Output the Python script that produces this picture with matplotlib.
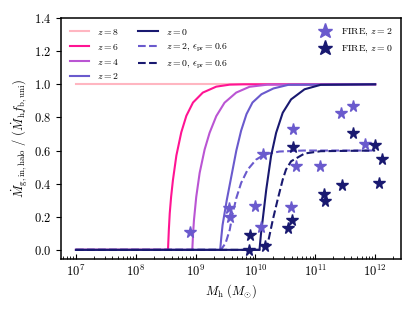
import numpy as np
import matplotlib
matplotlib.use("Agg")
import matplotlib.pyplot as plt

plt.rcParams['font.family'] = 'serif'
plt.rcParams['font.serif'] = ['cmr10']
plt.rcParams['mathtext.fontset'] = 'cm'
plt.rcParams['axes.formatter.use_mathtext'] = True

# ---- data (log10 halo mass, fraction) ----
logm_z8 = [7.0, 12.0]
f_z8 = [1.0, 1.0]

logm_z6 = [7.0, 8.538, 8.552, 8.567, 8.59, 8.62, 8.678, 8.76, 8.845, 8.956, 9.12, 9.345, 9.57, 9.8, 12.0]
f_z6 = [0.0, 0.0, 0.12, 0.22, 0.32, 0.42, 0.57, 0.71, 0.81, 0.89, 0.95, 0.986, 0.998, 1.0, 1.0]

logm_z4 = [7.0, 8.944, 8.956, 8.972, 9.01, 9.067, 9.15, 9.233, 9.345, 9.483, 9.678, 9.9, 10.2, 12.0]
f_z4 = [0.0, 0.0, 0.09, 0.18, 0.32, 0.465, 0.606, 0.707, 0.808, 0.889, 0.95, 0.985, 0.998, 1.0]

logm_z2 = [7.0, 9.41, 9.43, 9.45, 9.52, 9.6, 9.68, 9.76, 9.85, 9.95, 10.1, 10.3, 10.55, 12.0]
f_z2 = [0.0, 0.0, 0.08, 0.15, 0.3, 0.45, 0.6, 0.72, 0.82, 0.89, 0.94, 0.975, 0.997, 1.0]

logm_z0 = [7.0, 10.067, 10.09, 10.12, 10.18, 10.26, 10.345, 10.455, 10.595, 10.82, 11.09, 12.0]
f_z0 = [0.0, 0.0, 0.09, 0.18, 0.364, 0.566, 0.707, 0.828, 0.909, 0.97, 0.997, 1.0]

logm_z2_pr = [7.0, 9.42, 9.5, 9.57, 9.62, 9.68, 9.76, 9.87, 10.01, 10.15, 10.4, 10.8, 12.0]
f_z2_pr = [0.0, 0.0, 0.04, 0.121, 0.222, 0.313, 0.404, 0.485, 0.545, 0.576, 0.594, 0.6, 0.6]

logm_z0_pr = [7.0, 10.1, 10.2, 10.23, 10.29, 10.37, 10.455, 10.51, 10.595, 10.82, 11.09, 12.0]
f_z0_pr = [0.0, 0.0, 0.03, 0.08, 0.182, 0.303, 0.424, 0.485, 0.535, 0.582, 0.596, 0.6]

fire_z2_logm = [8.90, 9.55, 9.567, 10.0, 10.09, 10.13, 10.62, 10.68, 10.60, 11.08, 11.43, 11.63, 11.83]
fire_z2_f = [0.105, 0.255, 0.196, 0.262, 0.141, 0.579, 0.731, 0.509, 0.256, 0.509, 0.828, 0.867, 0.642]

fire_z0_logm = [9.91, 9.895, 10.155, 10.61, 10.545, 10.62, 11.14, 11.16, 11.44, 11.63, 11.995, 12.07, 12.12]
fire_z0_f = [0.091, 0.0, 0.021, 0.179, 0.133, 0.622, 0.335, 0.297, 0.394, 0.705, 0.632, 0.404, 0.55]

c8, c6, c4, c2, c0 = '#ffb6c1', '#ff1493', '#ba55d3', '#6a5acd', '#191970'

fig = plt.figure(figsize=(4.15, 3.12), dpi=100)
ax = fig.add_axes([0.147, 0.170, 0.819, 0.772])

def m(a):
    return 10 ** np.asarray(a)

lw = 1.5
l8, = ax.plot(m(logm_z8), f_z8, color=c8, lw=lw, label=r'$z=8$', zorder=2)
l6, = ax.plot(m(logm_z6), f_z6, color=c6, lw=lw, label=r'$z=6$', zorder=2)
l4, = ax.plot(m(logm_z4), f_z4, color=c4, lw=lw, label=r'$z=4$', zorder=2)
l2, = ax.plot(m(logm_z2), f_z2, color=c2, lw=lw, label=r'$z=2$', zorder=2)
l2p, = ax.plot(m(logm_z2_pr), f_z2_pr, color=c2, lw=lw, ls='--',
               label=r'$z=2,\,\epsilon_{\rm pr}=0.6$', zorder=2)
l0p, = ax.plot(m(logm_z0_pr), f_z0_pr, color=c0, lw=lw, ls='--',
               label=r'$z=0,\,\epsilon_{\rm pr}=0.6$', zorder=2)
l0, = ax.plot(m(logm_z0), f_z0, color=c0, lw=lw, label=r'$z=0$', zorder=2.5)

s2, = ax.plot(m(fire_z2_logm), fire_z2_f, ls='none', marker='*', ms=8.5, color=c2,
              label=r'FIRE, $z=2$', zorder=3)
s0, = ax.plot(m(fire_z0_logm), fire_z0_f, ls='none', marker='*', ms=8.5, color=c0,
              label=r'FIRE, $z=0$', zorder=3)

ax.set_xscale('log')
ax.set_xlim(10 ** 6.75, 10 ** 12.43)
ax.set_ylim(-0.055, 1.4)
ax.set_yticks([0.0, 0.2, 0.4, 0.6, 0.8, 1.0, 1.2, 1.4])
ax.set_xticks([1e7, 1e8, 1e9, 1e10, 1e11, 1e12])

ax.tick_params(axis='x', which='major', direction='in', length=3.5, width=0.8, labelsize=9)
ax.tick_params(axis='x', which='minor', direction='in', length=2, width=0.6)
ax.tick_params(axis='y', which='major', direction='out', length=3.5, width=0.8, labelsize=9)
for sp in ax.spines.values():
    sp.set_linewidth(1.1)

ax.set_xlabel(r'$M_{\rm h}\ (M_{\odot})$', fontsize=9, labelpad=2)
ax.set_ylabel(r'$\dot{M}_{\rm g,in,halo}\ /\ (\dot{M}_{\rm h} f_{\rm b,uni})$', fontsize=9, labelpad=3)

leg1 = ax.legend(handles=[l8, l6, l4, l2, l0, l2p, l0p], loc='upper left', ncol=2,
                 frameon=False, fontsize=7)
ax.add_artist(leg1)
ax.legend(handles=[s2, s0], loc='upper right', frameon=False, fontsize=7, markerscale=1.3,
          handletextpad=0.6)

fig.savefig('out.png', dpi=100)
